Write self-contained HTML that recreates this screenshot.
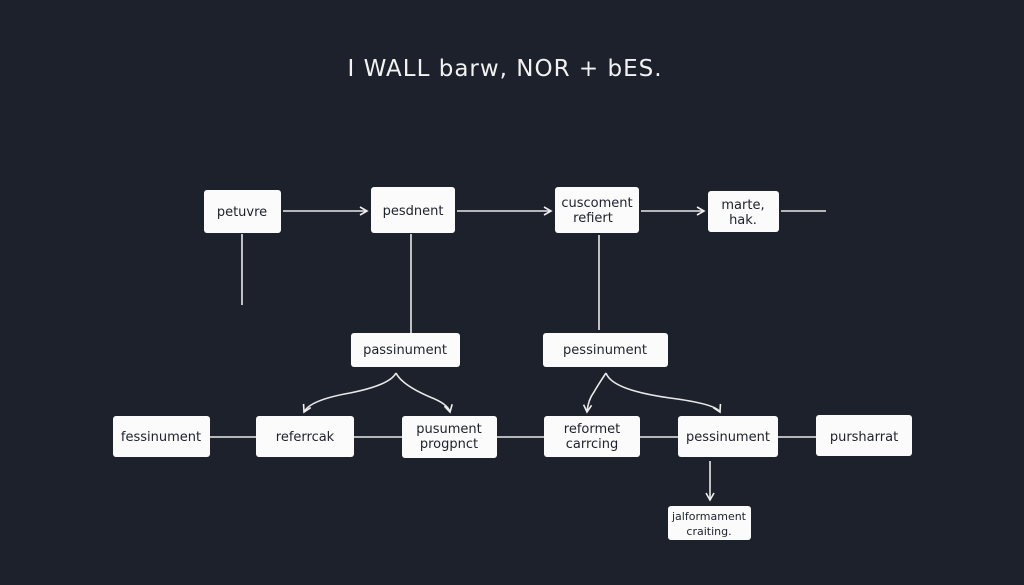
<!DOCTYPE html>
<html><head><meta charset="utf-8"><style>
html,body{margin:0;padding:0;background:#1c212b;width:1024px;height:585px;overflow:hidden}
svg{display:block}
text{font-family:"DejaVu Sans","Liberation Sans",sans-serif;fill:#1c212b;font-size:13px;text-anchor:middle}
.t{fill:#f2f2f2;font-size:23px;letter-spacing:1px}
</style></head><body>
<svg width="1024" height="585" viewBox="0 0 1024 585">
<defs><marker id="a" markerWidth="10" markerHeight="10" refX="8" refY="5" orient="auto" markerUnits="userSpaceOnUse"><path d="M1,1 L8,5 L1,9" fill="none" stroke="#eee" stroke-width="1.6"/></marker></defs>
<text class="t" x="505" y="76">I WALL barw,  NOR + bES.</text>
<g stroke="#e8e8e8" stroke-width="1.6" fill="none">
<line x1="283" y1="211" x2="367" y2="211" marker-end="url(#a)"/>
<line x1="457" y1="211" x2="551" y2="211" marker-end="url(#a)"/>
<line x1="641" y1="211" x2="704" y2="211" marker-end="url(#a)"/>
<line x1="781" y1="211" x2="826" y2="211"/>
<line x1="242" y1="234" x2="242" y2="305"/>
<line x1="411" y1="234" x2="411" y2="333"/>
<line x1="599" y1="235" x2="599" y2="330"/>
<line x1="210" y1="437" x2="256" y2="437"/>
<line x1="354" y1="437" x2="402" y2="437"/>
<line x1="497" y1="437" x2="544" y2="437"/>
<line x1="640" y1="437" x2="678" y2="437"/>
<line x1="778" y1="437" x2="816" y2="437"/>
<path d="M396,373 Q390,385 350,393 Q310,400 304,412" marker-end="url(#a)"/>
<path d="M396,373 Q402,385 430,397 Q448,404 450,412" marker-end="url(#a)"/>
<path d="M606,373 Q598,385 594,392 Q588,400 587,412" marker-end="url(#a)"/>
<path d="M606,373 Q612,390 670,398 Q716,404 720,412" marker-end="url(#a)"/>
<line x1="710" y1="461" x2="710" y2="500" marker-end="url(#a)"/>
</g>
<g fill="#fbfbfb">
<rect x="204" y="190" width="77" height="43" rx="3"/>
<rect x="371" y="187" width="84" height="46" rx="3"/>
<rect x="555" y="187" width="84" height="46" rx="3"/>
<rect x="708" y="191" width="71" height="41" rx="3"/>
<rect x="351" y="333" width="109" height="34" rx="3"/>
<rect x="543" y="333" width="125" height="34" rx="3"/>
<rect x="113" y="416" width="97" height="41" rx="3"/>
<rect x="256" y="416" width="98" height="41" rx="3"/>
<rect x="402" y="416" width="95" height="42" rx="3"/>
<rect x="544" y="416" width="96" height="41" rx="3"/>
<rect x="678" y="416" width="100" height="41" rx="3"/>
<rect x="816" y="415" width="96" height="41" rx="3"/>
<rect x="668" y="506" width="83" height="34" rx="3"/>
</g>
<text x="242" y="216">petuvre</text>
<text x="413" y="215">pesdnent</text>
<text x="597" y="207">cuscoment</text>
<text x="593" y="222">refiert</text>
<text x="743" y="209">marte,</text>
<text x="743" y="224">hak.</text>
<text x="405" y="354">passinument</text>
<text x="605" y="354">pessinument</text>
<text x="161" y="441">fessinument</text>
<text x="305" y="441">referrcak</text>
<text x="449" y="433">pusument</text>
<text x="449" y="448">progpnct</text>
<text x="592" y="433">reformet</text>
<text x="592" y="448">carrcing</text>
<text x="728" y="441">pessinument</text>
<text x="864" y="441">pursharrat</text>
<text x="709" y="520" style="font-size:11px">jalformament</text>
<text x="709" y="535" style="font-size:11px">craiting.</text>
</svg>
</body></html>
